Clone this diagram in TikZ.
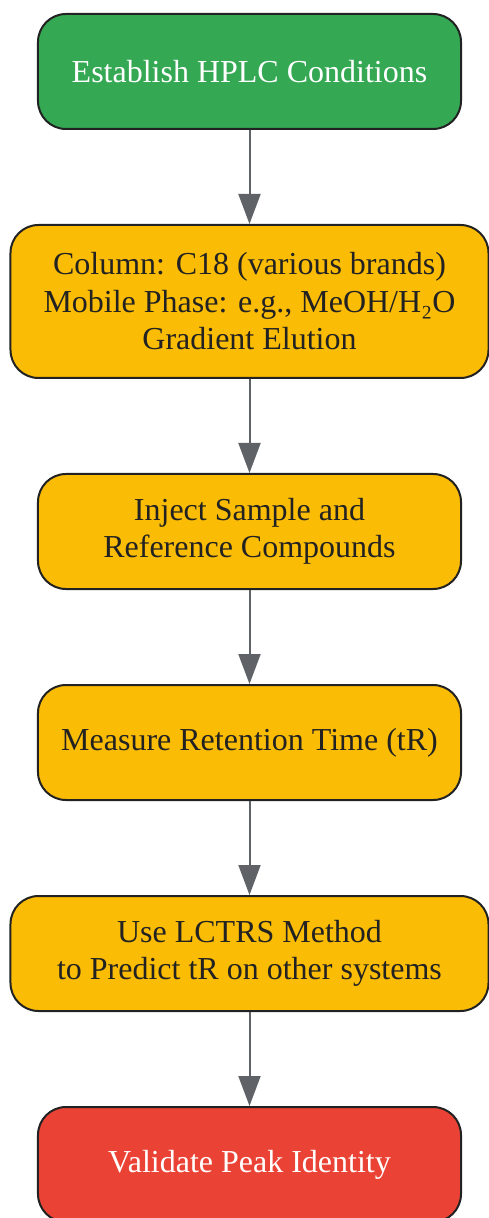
\documentclass[tikz,border=0pt]{standalone}
\usepackage{fontspec}
\setmainfont{Liberation Serif}
\usetikzlibrary{arrows.meta,positioning,calc}

\definecolor{hplcgreen}{HTML}{34A853}
\definecolor{hplcyellow}{HTML}{FBBC05}
\definecolor{hplcred}{HTML}{EA4335}
\definecolor{hplcgray}{HTML}{5F6368}
\definecolor{hplcline}{HTML}{222222}

\begin{document}
\begin{tikzpicture}[
    node distance=47pt,
    block/.style={rectangle,draw=hplcline,line width=1pt,minimum width=211.5pt,minimum height=57.5pt,align=center,rounded corners=14pt,inner sep=4pt,font=\fontsize{16}{18.75}\selectfont,text=hplcline},
    wideblock/.style={block,minimum width=239pt},
    arrow/.style={draw=hplcgray,line width=1pt,-{Triangle[length=15pt,width=11pt]}}
]
    \useasboundingbox (-124.75pt,35.75pt) rectangle (119.25pt,-573.25pt);

    \node[block,fill=hplcgreen,text=white] (cond) at (0,0) {Establish HPLC Conditions};

    \node[wideblock,fill=hplcyellow,minimum height=76.5pt,below=of cond] (column) {Column: C18 (various brands)\\Mobile Phase: e.g., MeOH/H₂O\\Gradient Elution};

    \node[block,fill=hplcyellow,below=of column] (inject) {Inject Sample and\\Reference Compounds};

    \node[block,fill=hplcyellow,below=of inject] (measure) {Measure Retention Time (tR)};

    \node[wideblock,fill=hplcyellow,below=of measure] (lctrs) {Use LCTRS Method\\to Predict tR on other systems};

    \node[block,fill=hplcred,text=white,below=of lctrs] (valid) {Validate Peak Identity};

    \draw[arrow] (cond) -- (column);
    \draw[arrow] (column) -- (inject);
    \draw[arrow] (inject) -- (measure);
    \draw[arrow] (measure) -- (lctrs);
    \draw[arrow] (lctrs) -- (valid);
\end{tikzpicture}
\end{document}
